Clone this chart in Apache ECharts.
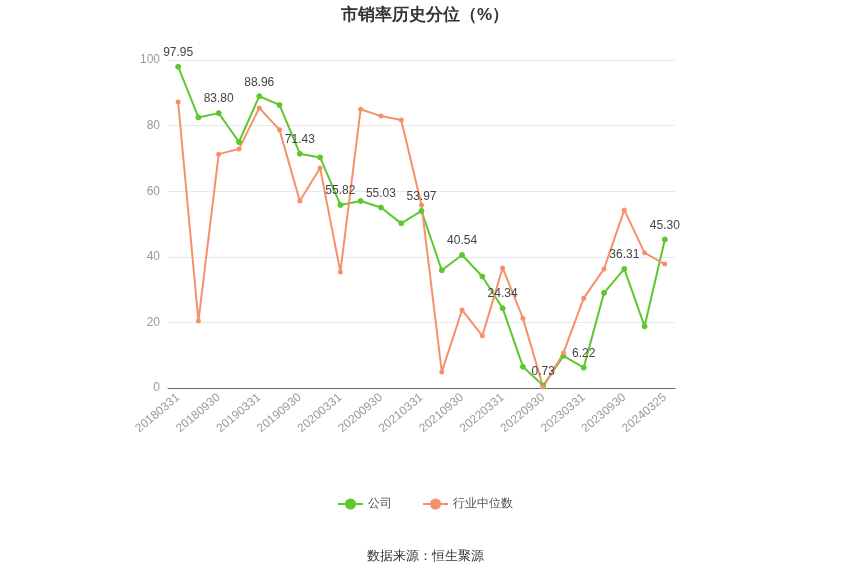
<!DOCTYPE html>
<html><head><meta charset="utf-8">
<script src="https://cdn.jsdelivr.net/npm/echarts@6/dist/echarts.min.js"></script>
<style>html,body{margin:0;padding:0}#c{width:850px;height:575px}</style>
</head><body><div id="c"></div>
<script>
const categories=['20180331','20180630','20180930','20181231','20190331','20190630','20190930','20191231','20200331','20200630','20200930','20201231','20210331','20210630','20210930','20211231','20220331','20220630','20220930','20221231','20230331','20230630','20230930','20231231','20240325'];
const company=[97.95,82.5,83.80,75.0,88.96,86.3,71.43,70.3,55.82,57.0,55.03,50.2,53.97,35.9,40.54,34.0,24.34,6.5,0.73,9.8,6.22,29.0,36.31,18.8,45.30];
const industry=[87.2,20.4,71.3,72.9,85.4,78.7,57.0,67.1,35.4,85.0,82.9,81.7,55.8,4.9,23.8,15.9,36.6,21.3,0.3,10.7,27.4,36.3,54.3,41.2,37.8];
const chart=echarts.init(document.getElementById('c'));
chart.setOption({
  title:{text:'市销率历史分位（%）',left:'center',top:2,textStyle:{fontSize:17,fontWeight:'bold',color:'#333'}},
  legend:{bottom:60,itemGap:30,textStyle:{color:'#555',fontSize:12},data:['公司','行业中位数']},
  graphic:[{type:'text',left:'center',bottom:12,style:{text:'数据来源：恒生聚源',fontSize:13,fill:'#333'}}],
  grid:{left:168,right:175,top:60,bottom:187},
  xAxis:{type:'category',data:categories,boundaryGap:true,
    axisLine:{lineStyle:{color:'#666'}},axisTick:{alignWithLabel:true,interval:1},
    axisLabel:{interval:1,rotate:40,color:'#999',fontSize:12}},
  yAxis:{type:'value',min:0,max:100,interval:20,axisLabel:{color:'#999'},
    splitLine:{lineStyle:{color:'#e6e9f0'}}},
  series:[
    {name:'公司',type:'line',data:company,symbol:'circle',symbolSize:5,
     itemStyle:{color:'#5ec72e',borderColor:'#5ec72e'},lineStyle:{width:2,color:'#5ec72e'},
     label:{show:true,position:'top',color:'#444',fontSize:12,formatter:p=>p.dataIndex%2===0?p.value.toFixed(2):''},z:3},
    {name:'行业中位数',type:'line',data:industry,symbol:'circle',symbolSize:5,
     itemStyle:{color:'#f5916a'},lineStyle:{width:2,color:'#f5916a'}}
  ]
});
</script></body></html>
